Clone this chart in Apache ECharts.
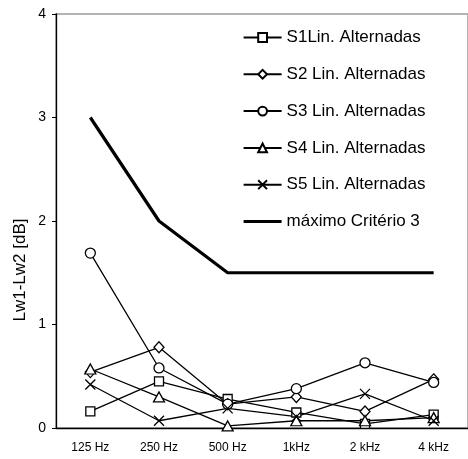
<!DOCTYPE html>
<html>
<head>
<meta charset="utf-8">
<title>Lw1-Lw2</title>
<script src="https://cdn.jsdelivr.net/npm/echarts@6/dist/echarts.min.js"></script>
<style>
  html, body { margin: 0; padding: 0; background: #fff; }
  #chart { width: 468px; height: 459px; }
</style>
</head>
<body>
<div id="chart"></div>
<script>
// Frequency bands (x axis)
var categories = ['125 Hz', '250 Hz', '500 Hz', '1kHz', '2 kHz', '4 kHz'];

// Level differences Lw1-Lw2 in dB per sample
var s1 = [0.16, 0.45, 0.28, 0.15, 0.04, 0.13];
var s2 = [0.54, 0.78, 0.23, 0.30, 0.16, 0.47];
var s3 = [1.69, 0.58, 0.23, 0.38, 0.63, 0.44];
var s4 = [0.57, 0.30, 0.02, 0.07, 0.07, 0.10];
var s5 = [0.42, 0.07, 0.19, 0.11, 0.33, 0.07];
var maxCriterio = [3, 2, 1.5, 1.5, 1.5, 1.5];

var seriesNames = [
  'S1Lin. Alternadas',
  'S2 Lin. Alternadas',
  'S3 Lin. Alternadas',
  'S4 Lin. Alternadas',
  'S5 Lin. Alternadas',
  'máximo Critério 3'
];

var yTicks = { min: 0, max: 4, interval: 1 };

var FONT = '"Liberation Sans", Arial, sans-serif';
var crossPath = 'path://M0,0L10,10M10,0L0,10';

function sampleSeries(name, data, symbol, size) {
  return {
    name: name,
    type: 'line',
    data: data,
    symbol: symbol,
    symbolSize: size,
    showAllSymbol: true,
    lineStyle: { color: '#000', width: 1.3 },
    itemStyle: { color: '#fff', borderColor: '#000', borderWidth: 1.3 },
    emphasis: { disabled: true },
    animation: false
  };
}

// legend entries; the criterion line shows only its thick stroke
var legendData = seriesNames.map(function (n, i) {
  if (i === seriesNames.length - 1) {
    return {
      name: n,
      lineStyle: { width: 3.2, color: '#000' },
      itemStyle: { opacity: 0, color: 'transparent', borderColor: 'transparent', borderWidth: 0 }
    };
  }
  return { name: n };
});

var chart = echarts.init(document.getElementById('chart'), null, { renderer: 'canvas' });

chart.setOption({
  backgroundColor: '#fff',
  animation: false,
  grid: {
    left: 56,
    top: 14,
    bottom: 31,
    width: 416,
    show: true,
    borderColor: '#9a9a9a',
    borderWidth: 1.5,
    backgroundColor: 'transparent'
  },
  legend: {
    orient: 'vertical',
    left: 242,
    top: 29,
    padding: 0,
    itemWidth: 38,
    itemHeight: 11,
    itemGap: 19.8,
    selectedMode: false,
    data: legendData,
    textStyle: {
      fontFamily: FONT,
      fontSize: 17,
      color: '#000'
    }
  },
  xAxis: {
    type: 'category',
    data: categories,
    boundaryGap: true,
    axisLine: { lineStyle: { color: '#000', width: 1.3 } },
    axisTick: { show: false },
    axisLabel: {
      color: '#000',
      fontFamily: FONT,
      fontSize: 12,
      margin: 14
    },
    splitLine: { show: false }
  },
  yAxis: {
    type: 'value',
    min: yTicks.min,
    max: yTicks.max,
    interval: yTicks.interval,
    axisLine: { show: true, lineStyle: { color: '#000', width: 1.3 } },
    axisTick: { show: true, inside: false, length: 4, lineStyle: { color: '#000' } },
    axisLabel: {
      color: '#000',
      fontFamily: FONT,
      fontSize: 14,
      margin: 10
    },
    splitLine: { show: false }
  },
  graphic: [{
    type: 'text',
    x: 20,
    y: 270,
    rotation: Math.PI / 2,
    silent: true,
    style: {
      text: 'Lw1-Lw2 [dB]',
      fill: '#000',
      font: '17px ' + FONT,
      align: 'center',
      verticalAlign: 'middle'
    }
  }],
  series: [
    sampleSeries(seriesNames[0], s1, 'rect', 9),
    sampleSeries(seriesNames[1], s2, 'diamond', [10, 11]),
    sampleSeries(seriesNames[2], s3, 'circle', 10),
    sampleSeries(seriesNames[3], s4, 'triangle', [11, 10]),
    sampleSeries(seriesNames[4], s5, crossPath, 10),
    {
      name: seriesNames[5],
      type: 'line',
      data: maxCriterio,
      symbol: 'none',
      lineStyle: { color: '#000', width: 3.2 },
      itemStyle: { color: '#000' },
      emphasis: { disabled: true },
      animation: false
    }
  ]
});
</script>
</body>
</html>
